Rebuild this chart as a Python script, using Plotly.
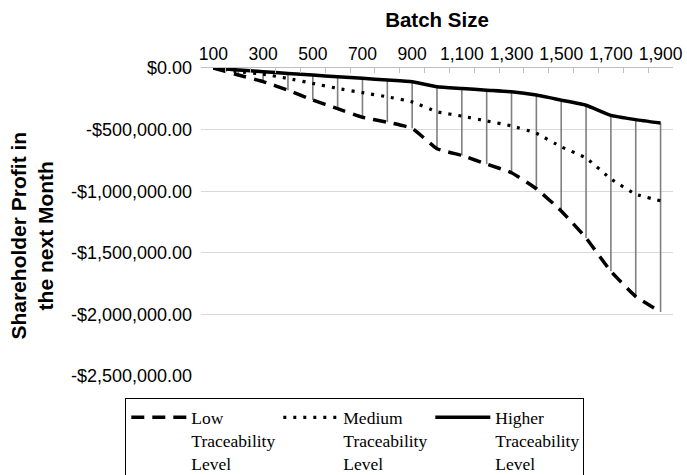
import plotly.graph_objects as go

batch = [100, 200, 300, 400, 500, 600, 700, 800, 900, 1000,
         1100, 1200, 1300, 1400, 1500, 1600, 1700, 1800, 1900]
low = [0, -57000, -110000, -180000, -260000, -330000, -400000, -440000, -490000,
       -655000, -710000, -780000, -850000, -980000, -1160000, -1380000, -1650000,
       -1855000, -1980000]
medium = [0, -30000, -50000, -85000, -125000, -166000, -200000, -234000, -275000,
          -355000, -390000, -430000, -470000, -530000, -640000, -730000, -900000,
          -1024000, -1078000]
higher = [0, -16000, -30000, -44000, -57000, -71000, -84000, -98000, -112000,
          -152000, -166000, -180000, -193000, -220000, -261000, -302000, -384000,
          -419000, -447000]

names = ["Low<br>Traceability<br>Level", "Medium<br>Traceability<br>Level",
         "Higher<br>Traceability<br>Level"]

x_tickvals = batch[::2]
x_ticktext = [f"{v:,}" for v in x_tickvals]
y_tickvals = [0, -500000, -1000000, -1500000, -2000000, -2500000]
y_ticktext = ["$0.00", "-$500,000.00", "-$1,000,000.00", "-$1,500,000.00",
              "-$2,000,000.00", "-$2,500,000.00"]

step = batch[1] - batch[0]
boundaries = [b - step / 2 for b in batch] + [batch[-1] + step / 2]

# high-low lines
hx, hy = [], []
for xb, h, l in zip(batch, higher, low):
    hx += [xb, xb, None]
    hy += [h, l, None]

fig = go.Figure()
fig.add_trace(go.Scatter(x=hx, y=hy, mode="lines", showlegend=False,
                         hoverinfo="skip",
                         line=dict(color="#7f7f7f", width=1.6)))
fig.add_trace(go.Scatter(x=batch, y=low, mode="lines", name=names[0],
                         line=dict(color="black", width=3.5, dash="13px,8px",
                                   shape="spline", smoothing=0.4)))
fig.add_trace(go.Scatter(x=batch, y=medium, mode="lines", name=names[1],
                         line=dict(color="black", width=3.2, dash="3px,7px",
                                   shape="spline", smoothing=0.4)))
fig.add_trace(go.Scatter(x=batch, y=higher, mode="lines", name=names[2],
                         line=dict(color="black", width=3.5,
                                   shape="spline", smoothing=0.4)))

fig.update_layout(
    width=687, height=475,
    margin=dict(l=201, r=14, t=68, b=99, autoexpand=False),
    paper_bgcolor="white", plot_bgcolor="white",
    font=dict(family="Liberation Sans, Arial, sans-serif", size=17, color="black"),
    xaxis=dict(
        type="linear", side="top", range=[boundaries[0], boundaries[-1]],
        tickvals=x_tickvals, ticktext=x_ticktext,
        ticks="inside", ticklen=0, tickfont=dict(size=17.5),
        showgrid=False, zeroline=False,
        showline=True, linecolor="#bfbfbf", linewidth=1.3,
        minor=dict(tickvals=boundaries, ticks="inside", ticklen=5,
                   tickcolor="#bfbfbf", tickwidth=1.3, showgrid=False),
        title=dict(text="<b>Batch Size</b>", font=dict(size=20.5), standoff=10),
        automargin=False,
    ),
    yaxis=dict(
        range=[-2500000, 0], tickvals=y_tickvals, ticktext=y_ticktext,
        showgrid=True, gridcolor="#d9d9d9", gridwidth=1.2,
        zeroline=False, showline=False, ticks="", ticklabelstandoff=8,
        tickfont=dict(size=18),
        automargin=False,
    ),
    annotations=[dict(
        text="<b>Shareholder Profit in<br>the next Month</b>",
        textangle=-90, xref="paper", yref="paper", x=-0.359, y=0.4545,
        xanchor="center", yanchor="middle", showarrow=False,
        font=dict(size=21, color="black"),
    )],
    legend=dict(
        orientation="h", x=-0.161, xanchor="left", y=-0.072, yanchor="top",
        bordercolor="black", borderwidth=1.3, bgcolor="white",
        font=dict(family="Liberation Serif, Times New Roman, serif", size=17.5,
                  color="black"),
        valign="top", itemwidth=55, entrywidth=82, entrywidthmode="pixels",
        tracegroupgap=0,
    ),
)

fig.write_html("out.html")
